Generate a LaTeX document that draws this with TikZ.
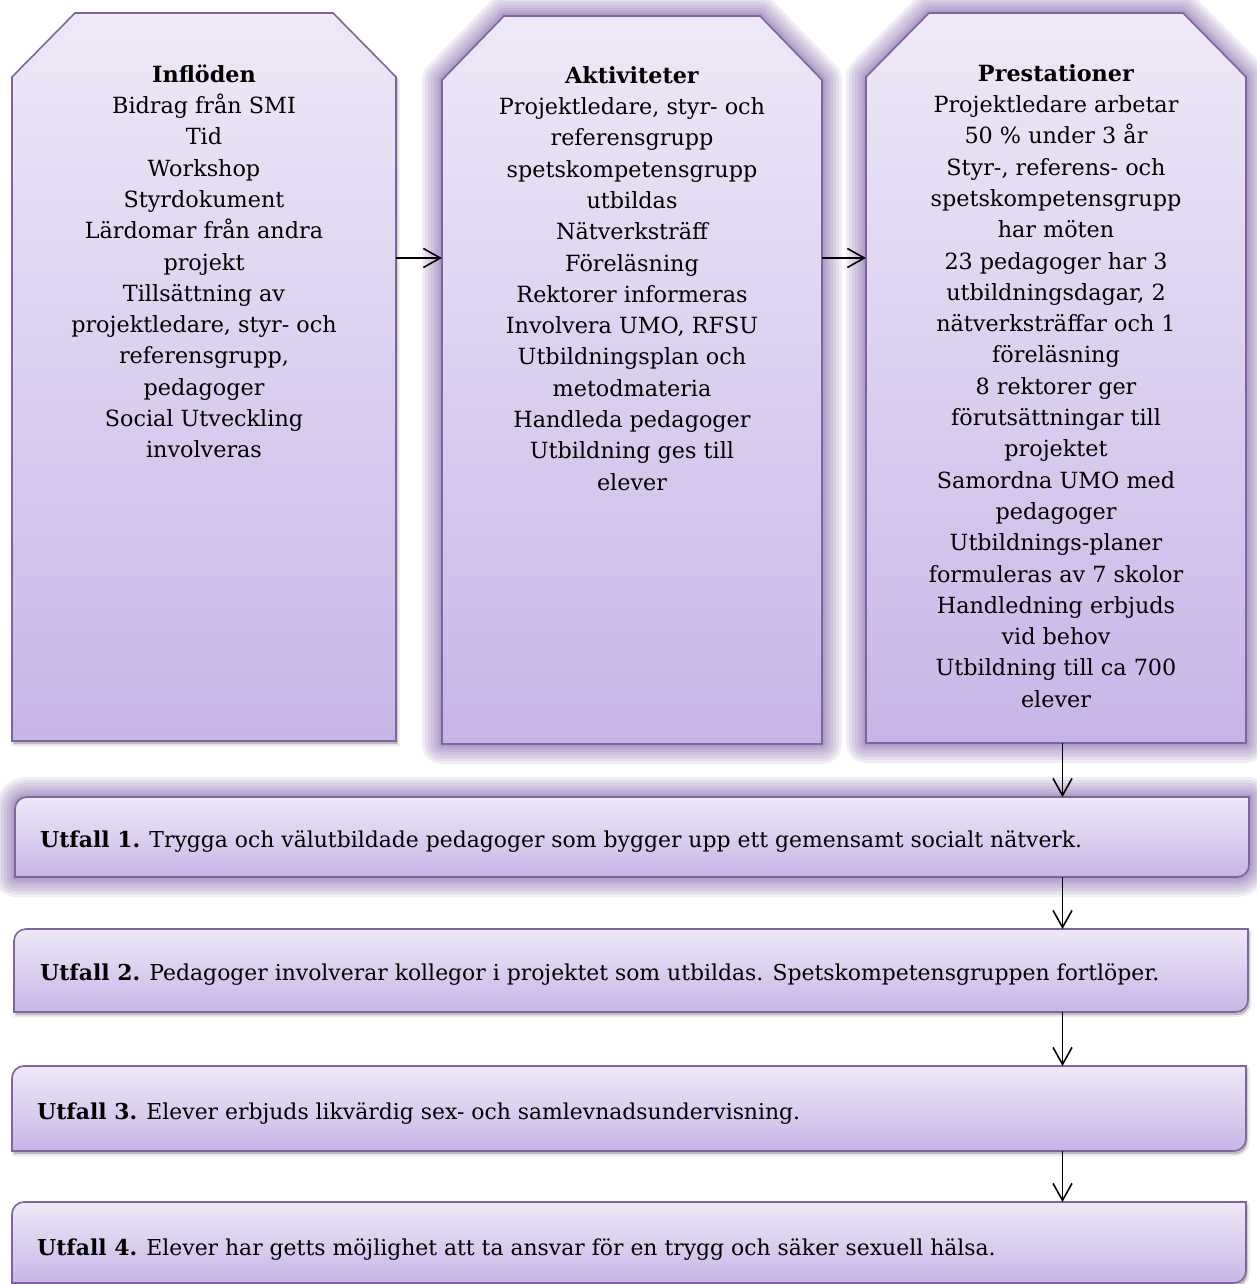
\documentclass[tikz,border=0pt]{standalone}
\usepackage{fontspec}
\setmainfont{DejaVu Serif}
\usetikzlibrary{arrows.meta}

\definecolor{edgepurple}{RGB}{128,100,162}
\definecolor{gradtop}{RGB}{238,233,247}
\definecolor{gradbot}{RGB}{200,181,231}
\definecolor{glowpurple}{RGB}{118,88,160}

\tikzset{
  x=1pt, y=1pt,
  panel/.style={draw=edgepurple, line width=1.6pt, top color=gradtop, bottom color=gradbot},
  glowring/.style={preaction={draw=glowpurple, draw opacity=.1, line width=#1, line join=round}},
  glow/.style={glowring=40pt, glowring=34pt, glowring=28pt, glowring=22pt,
               glowring=16pt, glowring=11pt, glowring=7pt, glowring=4pt},
  softshadow/.style={preaction={fill=black, fill opacity=.2, draw=black, draw opacity=.08,
               line width=4pt, transform canvas={xshift=1.5pt, yshift=-3pt}}},
  slot/.style={rectangle, draw=none, inner sep=0pt, outer sep=0pt},
  flow/.style={draw=black, line width=1.6pt, -{Straight Barb[length=17pt, width=19pt]}},
  boxtext/.style={align=center, inner sep=0pt, anchor=north,
               font=\fontsize{22.3}{31.3}\selectfont},
  outtext/.style={anchor=base west, inner sep=0pt, font=\fontsize{21.9}{31.3}\selectfont},
}

\begin{document}
\begin{tikzpicture}
\fill[white] (0,0) rectangle (1256,-1284);
\useasboundingbox (0,0) rectangle (1256,-1284);

% frames of the three columns and the four outcome bars
\node[slot, minimum width=384pt, minimum height=728pt] (inflow) at (204,-377) {};
\node[slot, minimum width=380pt, minimum height=728pt] (act) at (632,-380) {};
\node[slot, minimum width=380pt, minimum height=730pt] (perf) at (1056,-378) {};
\node[slot, minimum width=1234pt, minimum height=80pt] (out1) at (632,-837) {};
\node[slot, minimum width=1234pt, minimum height=83pt] (out2) at (631,-970.5) {};
\node[slot, minimum width=1234pt, minimum height=85pt] (out3) at (629,-1108.5) {};
\node[slot, minimum width=1234pt, minimum height=81pt] (out4) at (629,-1242.5) {};
\coordinate (spine) at (1062.5,0);

% column shapes with cut top corners
\path[panel, softshadow] ([yshift=-64pt]inflow.north west) -- ([xshift=63pt]inflow.north west)
  -- ([xshift=-63pt]inflow.north east) -- ([yshift=-64pt]inflow.north east)
  -- (inflow.south east) -- (inflow.south west) -- cycle;
\path[panel, glow] ([yshift=-64pt]act.north west) -- ([xshift=62pt]act.north west)
  -- ([xshift=-62pt]act.north east) -- ([yshift=-64pt]act.north east)
  -- (act.south east) -- (act.south west) -- cycle;
\path[panel, glow] ([yshift=-64pt]perf.north west) -- ([xshift=63pt]perf.north west)
  -- ([xshift=-63pt]perf.north east) -- ([yshift=-64pt]perf.north east)
  -- (perf.south east) -- (perf.south west) -- cycle;

% outcome bars, rounded at top left and bottom right
\path[panel, glow] ([xshift=12pt]out1.north west) -- (out1.north east) -- ([yshift=12pt]out1.south east)
  arc[start angle=0, end angle=-90, radius=12pt] -- (out1.south west) -- ([yshift=-12pt]out1.north west)
  arc[start angle=180, end angle=90, radius=12pt] -- cycle;
\path[panel, softshadow] ([xshift=12pt]out2.north west) -- (out2.north east) -- ([yshift=12pt]out2.south east)
  arc[start angle=0, end angle=-90, radius=12pt] -- (out2.south west) -- ([yshift=-12pt]out2.north west)
  arc[start angle=180, end angle=90, radius=12pt] -- cycle;
\path[panel, softshadow] ([xshift=12pt]out3.north west) -- (out3.north east) -- ([yshift=12pt]out3.south east)
  arc[start angle=0, end angle=-90, radius=12pt] -- (out3.south west) -- ([yshift=-12pt]out3.north west)
  arc[start angle=180, end angle=90, radius=12pt] -- cycle;
\path[panel, softshadow] ([xshift=12pt]out4.north west) -- (out4.north east) -- ([yshift=12pt]out4.south east)
  arc[start angle=0, end angle=-90, radius=12pt] -- (out4.south west) -- ([yshift=-12pt]out4.north west)
  arc[start angle=180, end angle=90, radius=12pt] -- cycle;

% column texts
\node[boxtext] (inflowtxt) at (204,-62) {\rule{0pt}{20pt}\textbf{Inflöden}\\
  Bidrag från SMI\\ Tid\\ Workshop\\ Styrdokument\\ Lärdomar från andra\\ projekt\\
  Tillsättning av\\ projektledare, styr- och\\ referensgrupp,\\ pedagoger\\
  Social Utveckling\\ involveras};
\node[boxtext] (acttxt) at (632,-63) {\rule{0pt}{20pt}\textbf{Aktiviteter}\\
  Projektledare, styr- och\\ referensgrupp\\ spetskompetensgrupp\\ utbildas\\
  Nätverksträff\\ Föreläsning\\ Rektorer informeras\\ Involvera UMO, RFSU\\
  Utbildningsplan och\\ metodmateria\\ Handleda pedagoger\\ Utbildning ges till\\ elever};
\node[boxtext] (perftxt) at (1056,-61) {\rule{0pt}{20pt}\textbf{Prestationer}\\
  Projektledare arbetar\\ 50 \% under 3 år\\ Styr-, referens- och\\ spetskompetensgrupp\\
  har möten\\ 23 pedagoger har 3\\ utbildningsdagar, 2\\ nätverksträffar och 1\\
  föreläsning\\ 8 rektorer ger\\ förutsättningar till\\ projektet\\ Samordna UMO med\\
  pedagoger\\ Utbildnings-planer\\ formuleras av 7 skolor\\ Handledning erbjuds\\
  vid behov\\ Utbildning till ca 700\\ elever};

% outcome texts
\node[outtext] (out1txt) at (40,-847) {\textbf{Utfall 1.} Trygga och välutbildade pedagoger som bygger upp ett gemensamt socialt nätverk.};
\node[outtext] (out2txt) at (40,-980) {\textbf{Utfall 2.} Pedagoger involverar kollegor i projektet som utbildas. Spetskompetensgruppen fortlöper.};
\node[outtext] (out3txt) at (37,-1119) {\textbf{Utfall 3.} Elever erbjuds likvärdig sex- och samlevnadsundervisning.};
\node[outtext] (out4txt) at (37,-1255) {\textbf{Utfall 4.} Elever har getts möjlighet att ta ansvar för en trygg och säker sexuell hälsa.};

% connectors
\draw[flow] ([yshift=119pt]inflow.east) -- ([yshift=122pt]act.west);
\draw[flow] ([yshift=122pt]act.east) -- ([yshift=120pt]perf.west);
\draw[flow] (spine |- perf.south) -- (spine |- out1.north);
\draw[flow] (spine |- out1.south) -- (spine |- out2.north);
\draw[flow] (spine |- out2.south) -- (spine |- out3.north);
\draw[flow] (spine |- out3.south) -- (spine |- out4.north);
\end{tikzpicture}
\end{document}
